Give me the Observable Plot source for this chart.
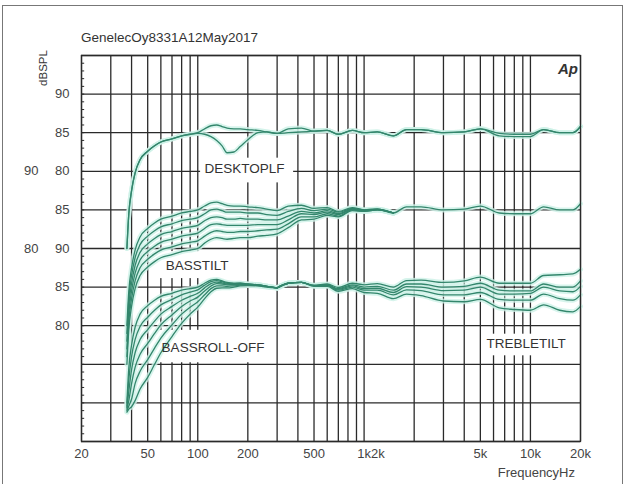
<!DOCTYPE html>
<html><head><meta charset="utf-8">
<script src="https://cdn.jsdelivr.net/npm/d3@7"></script>
<script src="https://cdn.jsdelivr.net/npm/@observablehq/plot@0.6"></script>
<style>
body{margin:0;background:#fff;}
#wrap{position:relative;width:631px;height:484px;overflow:hidden;background:#fff;}
#border{position:absolute;left:2px;top:5px;width:621px;height:520px;border:1.5px solid #777;box-sizing:border-box;}
#wrap svg{position:absolute;left:0;top:0;}
</style>
</head><body>
<div id="wrap"><div id="border"></div></div>
<script>
// ---------- data ----------
const title = "GenelecOy8331A12May2017";
const yTitle = "dBSPL";
const xTitle = "FrequencyHz";
const logo = "Ap";

// x tick labels
const xTickValues = [20, 50, 100, 200, 500, 1000, 5000, 10000, 20000];
const xTickLabels = ["20", "50", "100", "200", "500", "1k2k", "5k", "10k", "20k"];
// vertical grid (Hz)
const vGrid = [20,30,40,50,60,70,80,90,100,200,300,400,500,600,700,800,900,1000,2000,3000,4000,5000,6000,7000,8000,9000,10000,20000];

// y axis labels: position in chart divisions (0..50) and text
const yLabelPos1 = [45, 40, 35, 30, 25, 20, 15];
const yLabelTxt1 = ["90", "85", "80", "85", "90", "85", "80"];
const yLabelPos2 = [35, 25];
const yLabelTxt2 = ["90", "80"];

// each group's dB value drawn at division 0 (offset of its own dBSPL scale)
const groupNames = ["DESKTOPLF", "BASSTILT", "LOWER"];
const groupBase = [45, 55, 65];

// frequencies (Hz)
const freqAll = [37.5,38.5,40,42,45,50,55,60,70,80,90,100,110,120,130,140,150,165,180,200,230,260,300,350,420,500,600,700,850,1000,1200,1500,1800,2200,3000,4000,5000,6500,8000,10000,12000,15000,18000,20000];
const fLow = [37.5,38.5,40,42,45,50,55,60,70,80,90,100,110,120,130,140,150,165,180,200,230,260,300,350,420,500,600,700,850,1000,1200,1500];
const fRoll = [37.5,38.5,40,42,45,50,55,60,70,80,90,100,110,120,130,140,150,165,180,200,230,260,300];
const fHigh = [300,350,420,500,600,700,850,1000,1200,1500,1800,2200,3000,4000,5000,6500,8000,10000,12000,15000,18000,20000];

// reference response (dBSPL)
const ref = [70.0,74.5,77.5,79.8,81.5,82.6,83.3,83.8,84.2,84.6,84.8,85.0,85.5,85.9,86.0,85.8,85.6,85.5,85.5,85.4,85.3,85.1,84.9,85.5,85.6,85.2,85.3,84.8,85.3,85.0,85.1,84.6,85.4,85.4,85.0,85.1,85.5,84.6,84.5,84.5,85.4,85.0,85.0,85.8];
// desktop LF setting
const desktop = [70.0,74.5,77.5,79.8,81.5,82.6,83.3,83.8,84.2,84.6,84.8,84.9,84.8,84.5,84.0,83.3,82.4,82.5,83.2,84.1,85.0,85.1,84.9,85.0,85.1,85.2,85.3,84.8,85.3,85.0,85.1,84.6,85.4,85.4,85.0,85.1,85.5,84.9,84.8,84.8,85.4,85.0,85.0,85.8];

// bass tilt settings
const tilt1 = [69.0,73.5,76.5,78.8,80.5,81.6,82.3,82.8,83.2,83.6,83.8,84.0,84.5,85.0,85.1,84.9,84.7,84.7,84.7,84.6,84.6,84.4,84.3,84.8,85.2,84.9,85.1,84.7,85.2,85.0,85.1,84.6];
const tilt2 = [68.0,72.5,75.5,77.8,79.5,80.6,81.3,81.8,82.2,82.6,82.8,83.0,83.6,84.0,84.1,84.0,83.8,83.8,83.9,83.8,83.8,83.7,83.7,84.2,84.8,84.6,84.9,84.5,85.1,84.9,85.1,84.6];
const tilt3 = [67.0,71.5,74.5,76.8,78.5,79.6,80.3,80.8,81.2,81.6,81.8,82.0,82.6,83.1,83.2,83.1,83.0,83.0,83.0,83.0,83.1,83.1,83.1,83.7,84.5,84.4,84.7,84.4,85.1,84.9,85.0,84.6];
const tilt4 = [66.0,70.5,73.5,75.8,77.5,78.6,79.3,79.8,80.2,80.6,80.8,81.0,81.6,82.1,82.3,82.2,82.1,82.1,82.2,82.2,82.3,82.4,82.5,83.2,84.1,84.1,84.5,84.2,85.0,84.8,85.0,84.6];
const tilt5 = [65.0,69.5,72.5,74.8,76.5,77.6,78.3,78.8,79.2,79.6,79.8,80.0,80.7,81.2,81.4,81.3,81.2,81.3,81.4,81.4,81.6,81.7,81.9,82.7,83.7,83.8,84.3,84.1,84.9,84.8,85.0,84.6];

// bass roll-off settings
const roll1 = [69.6,73.0,76.0,78.2,79.9,81.1,82.0,82.7,83.4,84.0,84.35,84.65,85.25,85.7,85.85,85.7,85.5,85.45,85.5,85.4,85.3,85.1,84.9];
const roll2 = [69.4,71.5,74.3,76.5,78.2,79.5,80.6,81.5,82.5,83.3,83.8,84.2,84.9,85.45,85.65,85.55,85.4,85.35,85.4,85.35,85.3,85.1,84.9];
const roll3 = [69.2,70.3,72.5,74.6,76.3,77.7,79.0,80.1,81.4,82.5,83.2,83.7,84.5,85.15,85.45,85.4,85.3,85.3,85.35,85.3,85.25,85.1,84.9];
const roll4 = [69.0,69.6,70.5,72.5,74.1,75.6,77.1,78.4,80.1,81.5,82.4,83.1,84.0,84.8,85.15,85.15,85.1,85.15,85.25,85.25,85.2,85.05,84.9];
const roll5 = [68.8,69.2,69.5,70.3,71.8,73.3,75.0,76.5,78.6,80.3,81.5,82.4,83.5,84.4,84.85,84.9,84.9,85.0,85.15,85.2,85.15,85.0,84.9];

// treble tilt settings
const treb0 = [84.9,85.5,85.6,85.25,85.4,84.95,85.5,85.3,85.45,85.0,85.85,85.9,85.6,85.8,86.3,85.5,85.5,85.5,86.5,86.6,86.7,87.3];
const treb1 = [84.9,85.5,85.6,85.2,85.25,84.7,85.15,84.8,84.85,84.3,85.05,85.0,84.55,84.6,85.0,84.1,84.1,84.2,85.0,84.5,84.4,85.1];
const treb2 = [84.9,85.5,85.6,85.15,85.2,84.6,85.0,84.6,84.6,84.0,84.65,84.55,84.0,84.0,84.3,83.4,83.3,83.3,84.1,83.5,83.3,84.0];
const treb3 = [84.9,85.5,85.6,85.1,85.1,84.45,84.8,84.3,84.2,83.5,84.1,83.9,83.2,83.1,83.4,82.3,82.1,82.0,82.7,82.0,81.8,82.5];

// annotation labels (label anchor in Hz / divisions, white box in Hz / divisions)
const labelText = ["DESKTOPLF", "BASSTILT", "BASSROLL-OFF", "TREBLETILT"];
const labelF = [191, 99, 123.5, 9416];
const labelU = [35.3, 22.8, 12.2, 12.7];
const boxF1 = [104, 58, 54, 5156];
const boxF2 = [377, 169, 282, 17440];
const boxU1 = [33.5, 21.1, 10.2, 11.1];
const boxU2 = [36.7, 24.6, 14.4, 13.9];

// ---------- build ----------
const curves = [
  [0, freqAll, ref], [0, freqAll, desktop],
  [1, freqAll, ref], [1, fLow, tilt1], [1, fLow, tilt2], [1, fLow, tilt3], [1, fLow, tilt4], [1, fLow, tilt5],
  [2, freqAll, ref], [2, fRoll, roll1], [2, fRoll, roll2], [2, fRoll, roll3], [2, fRoll, roll4], [2, fRoll, roll5],
  [2, fHigh, treb0], [2, fHigh, treb1], [2, fHigh, treb2], [2, fHigh, treb3]
];
const rows = [];
curves.forEach(([g, fs, vs], i) => fs.forEach((f, j) => rows.push({id: i, f, u: vs[j] - groupBase[g]})));
const labels = labelText.map((t, i) => ({t, f: labelF[i], u: labelU[i], f1: boxF1[i], f2: boxF2[i], u1: boxU1[i], u2: boxU2[i]}));
const hGrid = d3.range(0, 51, 5);
const minor = d3.range(0, 51, 1);
const xt = xTickValues.map((v, i) => ({v, t: xTickLabels[i]}));
const yl1 = yLabelPos1.map((v, i) => ({v, t: yLabelTxt1[i]}));
const yl2 = yLabelPos2.map((v, i) => ({v, t: yLabelTxt2[i]}));

const font = "'Liberation Sans', Arial, sans-serif";
const gridColor = "#2a2a2a";

const chart = Plot.plot({
  width: 631, height: 484,
  marginLeft: 81, marginRight: 51, marginTop: 55, marginBottom: 43,
  style: {fontFamily: font, background: "transparent"},
  x: {type: "log", domain: [20, 20000], axis: null},
  y: {domain: [0, 50], axis: null},
  marks: [
    Plot.ruleX(vGrid, {x: d => d, stroke: gridColor, strokeWidth: 1.3}),
    Plot.ruleY(hGrid, {y: d => d, stroke: gridColor, strokeWidth: 1.3}),
    Plot.ruleY(minor, {y: d => d, x1: 20, x2: 20.9, stroke: gridColor, strokeWidth: 1}),
    Plot.rect(labels, {x1: "f1", x2: "f2", y1: "u1", y2: "u2", fill: "white"}),
    Plot.line(rows, {x: "f", y: "u", z: "id", stroke: "#cdf1e7", strokeWidth: 5, strokeOpacity: 0.8, curve: "monotone-x"}),
    Plot.line(rows, {x: "f", y: "u", z: "id", stroke: "#33866c", strokeWidth: 1.3, curve: "monotone-x"}),
    Plot.text(labels, {x: "f", y: "u", text: "t", fontSize: 13.5, fill: "#333"}),
    Plot.frame({stroke: gridColor, strokeWidth: 1.3}),
    Plot.text(xt.filter(d => d.t !== "1k2k"), {x: "v", y: 0, text: "t", dy: 12, fontSize: 13, fill: "#444"}),
    Plot.text(xt.filter(d => d.t === "1k2k"), {x: "v", y: 0, text: "t", dy: 12, dx: 7, fontSize: 13, fill: "#444"}),
    Plot.text(yl1, {x: 20, y: "v", text: "t", dx: -12, textAnchor: "end", fontSize: 13, fill: "#444"}),
    Plot.text(yl2, {x: 20, y: "v", text: "t", dx: -43, textAnchor: "end", fontSize: 13, fill: "#444"})
  ]
});
document.getElementById("wrap").appendChild(chart);
const svg = d3.select(chart);
svg.append("text").attr("x", 81).attr("y", 42).attr("text-anchor", "start").attr("font-size", 13.5).attr("fill", "#333").attr("font-family", font).text(title);
svg.append("text").attr("transform", "translate(47,68) rotate(-90)").attr("text-anchor", "middle").attr("font-size", 11.5).attr("fill", "#333").attr("font-family", font).text(yTitle);
svg.append("text").attr("x", 578).attr("y", 74).attr("text-anchor", "end").attr("font-size", 15).attr("font-weight", "bold").attr("font-style", "italic").attr("fill", "#333").attr("font-family", font).text(logo);
svg.append("text").attr("x", 575).attr("y", 477).attr("text-anchor", "end").attr("font-size", 13).attr("fill", "#444").attr("font-family", font).text(xTitle);
</script>
</body></html>
